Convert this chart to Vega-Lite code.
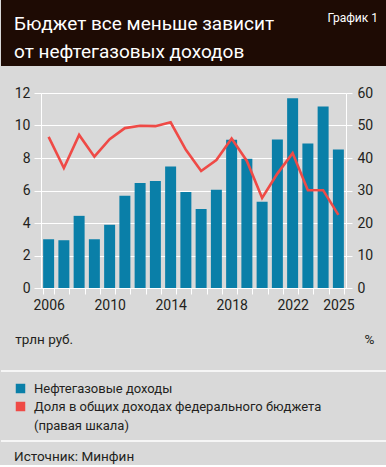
{
  "$schema": "https://vega.github.io/schema/vega-lite/v6.json",
  "padding": 0,
  "background": "#d9d9d9",
  "spacing": 20,
  "resolve": {"scale": {"color": "independent"}, "legend": {"color": "independent"}},
  "config": {
    "font": "Roboto",
    "view": {"stroke": null},
    "axis": {
      "labelFont": "Roboto",
      "titleFont": "Roboto",
      "labelColor": "#231f20",
      "titleColor": "#231f20",
      "labelFontSize": 14,
      "titleFontSize": 13.5,
      "titleFontWeight": "normal"
    },
    "legend": {"labelFont": "Roboto"},
    "title": {"font": "Roboto"}
  },
  "datasets": {
    "budget": [
      {"year": 2006, "revenue": 3.0, "share": 46.5},
      {"year": 2007, "revenue": 2.94, "share": 36.9},
      {"year": 2008, "revenue": 4.44, "share": 47.1},
      {"year": 2009, "revenue": 3.0, "share": 40.4},
      {"year": 2010, "revenue": 3.89, "share": 45.8},
      {"year": 2011, "revenue": 5.68, "share": 49.2},
      {"year": 2012, "revenue": 6.46, "share": 49.9},
      {"year": 2013, "revenue": 6.59, "share": 49.8},
      {"year": 2014, "revenue": 7.47, "share": 51.0},
      {"year": 2015, "revenue": 5.91, "share": 42.5},
      {"year": 2016, "revenue": 4.86, "share": 36.0},
      {"year": 2017, "revenue": 6.05, "share": 39.4},
      {"year": 2018, "revenue": 9.12, "share": 46.0},
      {"year": 2019, "revenue": 7.96, "share": 39.1},
      {"year": 2020, "revenue": 5.31, "share": 27.7},
      {"year": 2021, "revenue": 9.14, "share": 35.2},
      {"year": 2022, "revenue": 11.67, "share": 41.5},
      {"year": 2023, "revenue": 8.89, "share": 30.1},
      {"year": 2024, "revenue": 11.17, "share": 30.1},
      {"year": 2025, "revenue": 8.52, "share": 22.5}
    ],
    "series": [
      {"series": "Нефтегазовые доходы"},
      {"series": "Доля в общих доходах федерального бюджета"}
    ]
  },
  "vconcat": [
    {
      "spacing": 0,
      "bounds": "flush",
      "hconcat": [
        {
          "width": 300,
          "height": 66,
          "view": {"fill": "#1e0b04", "stroke": null},
          "data": {"values": [{}]},
          "mark": {"type": "rect", "fill": "#1e0b04"},
          "title": {
            "text": ["Бюджет все меньше зависит", "от нефтегазовых доходов"],
            "orient": "top",
            "anchor": "start",
            "frame": "group",
            "offset": -62,
            "dx": 13,
            "fontSize": 19,
            "lineHeight": 28.5,
            "fontWeight": "normal",
            "color": "#ffffff"
          }
        },
        {
          "width": 86,
          "height": 66,
          "view": {"fill": "#1e0b04", "stroke": null},
          "data": {"values": [{}]},
          "mark": {"type": "rect", "fill": "#1e0b04"},
          "title": {
            "text": "График 1",
            "orient": "top",
            "anchor": "end",
            "frame": "group",
            "offset": -25,
            "dx": -9,
            "fontSize": 12,
            "fontWeight": "normal",
            "color": "#ffffff"
          }
        }
      ]
    },
    {
      "spacing": 24,
      "resolve": {"scale": {"color": "independent"}, "legend": {"color": "independent"}},
      "vconcat": [
        {
          "spacing": 0,
          "hconcat": [
            {
              "width": 13,
              "height": 195,
              "data": {"values": [{}]},
              "mark": {"type": "rect", "opacity": 0}
            },
            {
              "width": 305,
              "height": 195,
              "data": {"name": "budget"},
              "encoding": {
                "x": {
                  "field": "year",
                  "type": "ordinal",
                  "scale": {"paddingInner": 0.28, "paddingOuter": 0.14},
                  "axis": {
                    "title": null,
                    "labelAngle": 0,
                    "tickBand": "extent",
                    "domainColor": "#ffffff",
                    "domainWidth": 1,
                    "tickColor": "#ffffff",
                    "tickSize": 6,
                    "labelPadding": 4,
                    "labelOverlap": false,
                    "labelExpr": "(datum.value == 2006 || datum.value == 2010 || datum.value == 2014 || datum.value == 2018 || datum.value == 2022 || datum.value == 2025) ? datum.label : ''"
                  }
                }
              },
              "layer": [
                {
                  "mark": {"type": "bar", "color": "#0a7fa8"},
                  "encoding": {
                    "y": {
                      "field": "revenue",
                      "type": "quantitative",
                      "scale": {"domain": [0, 12]},
                      "axis": {
                        "values": [0, 2, 4, 6, 8, 10, 12],
                        "title": "трлн руб.",
                        "titleAngle": 0,
                        "titleX": -26.2,
                        "titleY": 246,
                        "titleAlign": "left",
                        "titleBaseline": "middle",
                        "grid": true,
                        "gridColor": "#ffffff",
                        "gridWidth": 1,
                        "domainColor": "#ffffff",
                        "tickColor": "#ffffff",
                        "tickSize": 7,
                        "labelPadding": 4
                      }
                    }
                  }
                },
                {
                  "mark": {"type": "line", "color": "#ef4a46", "strokeWidth": 2.6},
                  "encoding": {
                    "y": {
                      "field": "share",
                      "type": "quantitative",
                      "scale": {"domain": [0, 60]},
                      "axis": {
                        "orient": "right",
                        "values": [0, 10, 20, 30, 40, 50, 60],
                        "title": "%",
                        "titleAngle": 0,
                        "titleX": 28,
                        "titleY": 246,
                        "titleAlign": "right",
                        "titleBaseline": "middle",
                        "grid": false,
                        "domainColor": "#ffffff",
                        "tickColor": "#ffffff",
                        "tickSize": 6,
                        "labelPadding": 5
                      }
                    }
                  }
                }
              ],
              "resolve": {"scale": {"y": "independent"}}
            }
          ]
        },
        {
          "width": 386,
          "height": 70,
          "view": {"stroke": "#ffffff", "strokeWidth": 1.5, "strokeDash": [386, 70, 386, 70], "fill": null},
          "data": {"name": "series"},
          "mark": {"type": "point", "size": 0, "filled": true, "strokeWidth": 0},
          "encoding": {
            "color": {
              "field": "series",
              "type": "nominal",
              "scale": {
                "domain": ["Нефтегазовые доходы", "Доля в общих доходах федерального бюджета"],
                "range": ["#0a7fa8", "#ef4a46"]
              },
              "legend": {
                "title": null,
                "orient": "none",
                "legendX": 13,
                "legendY": 11,
                "padding": 0,
                "symbolType": "square",
                "symbolSize": 90,
                "symbolStrokeWidth": 0,
                "symbolOpacity": 1,
                "labelFontSize": 13,
                "labelColor": "#231f20",
                "labelOffset": 7,
                "rowPadding": 4,
                "labelLimit": 400,
                "labelExpr": "datum.label == 'Доля в общих доходах федерального бюджета' ? ['Доля в общих доходах федерального бюджета', '(правая шкала)'] : datum.label",
                "encode": {"labels": {"update": {"lineHeight": {"value": 19}}}}
              }
            }
          },
          "title": {
            "text": "Источник: Минфин",
            "orient": "bottom",
            "anchor": "start",
            "frame": "group",
            "offset": 9,
            "dx": 13,
            "fontSize": 13.5,
            "fontWeight": "normal",
            "color": "#231f20"
          }
        }
      ]
    }
  ]
}
